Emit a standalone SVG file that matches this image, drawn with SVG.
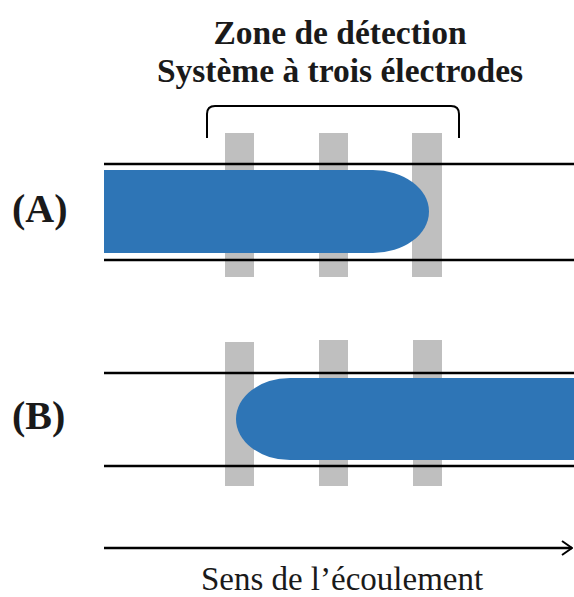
<svg xmlns="http://www.w3.org/2000/svg" width="574" height="597" viewBox="0 0 574 597">
<style>
.el{fill:#BFBFBF}
.fluid{fill:#2E75B6}
.wall{stroke:#000;stroke-width:2.5;fill:none}
.t{font-family:"Liberation Serif","Times New Roman",serif;fill:#1a1a1a}
.b{font-weight:bold}
</style>
<defs>
<marker id="arr" viewBox="0 0 12 16" refX="11" refY="8" markerWidth="12" markerHeight="16" markerUnits="userSpaceOnUse" orient="auto">
<path d="M1,1 L11,8 L1,15" fill="none" stroke="#000" stroke-width="2"/>
</marker>
</defs>
<rect width="574" height="597" fill="#fff"/>
<g id="title">
<text class="t b" x="340" y="44" font-size="33.5" text-anchor="middle">Zone de détection</text>
<text class="t b" x="340" y="82" font-size="33.5" text-anchor="middle">Système à trois électrodes</text>
</g>
<g id="brace">
<path d="M207,138 V114 Q207,106 215,106 H451 Q459,106 459,114 V138" fill="none" stroke="#000" stroke-width="2"/>
</g>
<g id="panelA">
<text class="t b" x="12" y="222" font-size="40">(A)</text>
<rect class="el" x="225" y="133" width="29" height="144"/>
<rect class="el" x="319" y="133" width="29" height="144"/>
<rect class="el" x="412" y="133" width="30" height="144"/>
<path class="fluid" d="M104,170 H373 A56,41.5 0 0 1 373,253 H104 Z"/>
<line class="wall" x1="104" y1="164" x2="574" y2="164"/>
<line class="wall" x1="104" y1="260" x2="574" y2="260"/>
</g>
<g id="panelB">
<text class="t b" x="12" y="429" font-size="40">(B)</text>
<rect class="el" x="225" y="342" width="29" height="144"/>
<rect class="el" x="319" y="340" width="29" height="146"/>
<rect class="el" x="413" y="340" width="29" height="146"/>
<path class="fluid" d="M574,378 H290 A54,41 0 0 0 290,460 H574 Z"/>
<line class="wall" x1="104" y1="373" x2="574" y2="373"/>
<line class="wall" x1="104" y1="466" x2="574" y2="466"/>
</g>
<g id="connectors">
<line x1="104" y1="548" x2="572" y2="548" stroke="#000" stroke-width="2.5" marker-end="url(#arr)"/>
</g>
<g id="flowLabel">
<text class="t" x="342" y="590" font-size="33" text-anchor="middle">Sens de l’écoulement</text>
</g>
</svg>
